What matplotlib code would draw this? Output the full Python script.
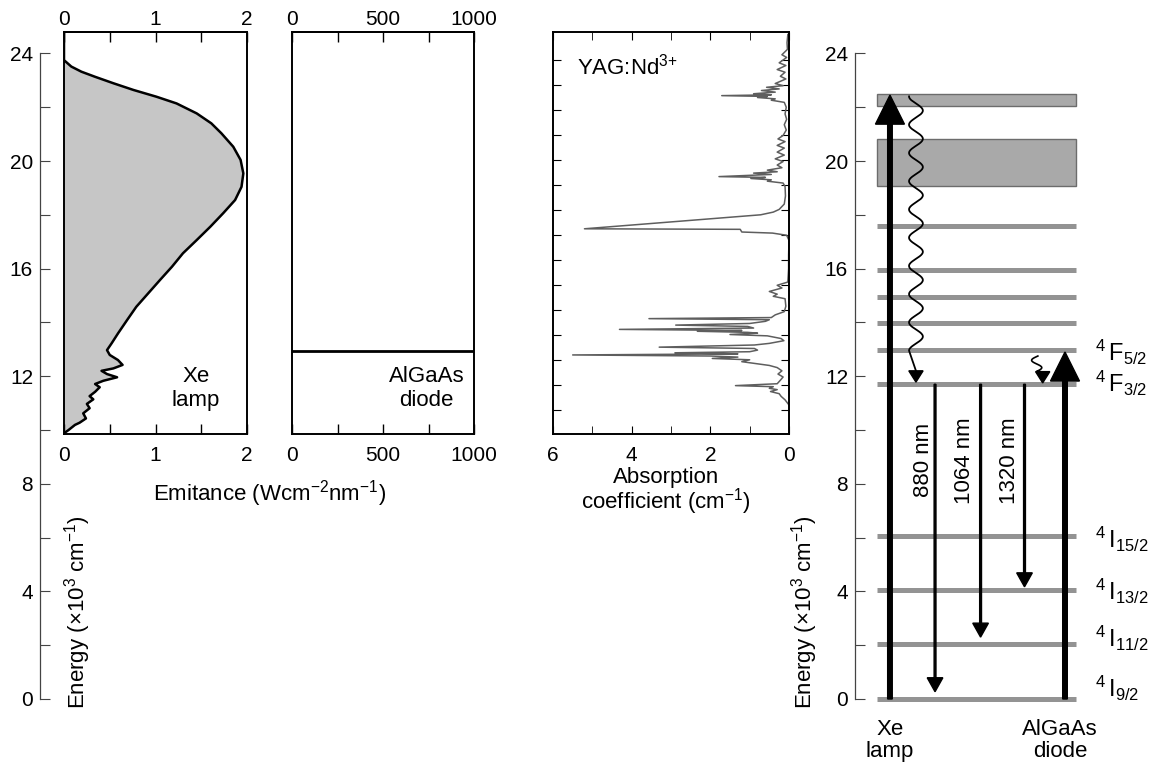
import matplotlib.pyplot as plt
import numpy as np
from matplotlib.ticker import MultipleLocator, FixedLocator

plt.rcParams['font.family'] = ['Liberation Sans', 'DejaVu Sans']
plt.rcParams['mathtext.fontset'] = 'custom'
plt.rcParams['mathtext.rm'] = 'Liberation Sans'
plt.rcParams['mathtext.it'] = 'Liberation Sans:italic'
plt.rcParams['mathtext.bf'] = 'Liberation Sans:bold'

# Xe lamp emission (energy in 10^3 cm^-1, emittance W cm^-2 nm^-1)
xe_energy = [9.88, 10.0, 10.19, 10.27, 10.43, 10.62, 10.81, 10.97, 11.14, 11.26,
             11.42, 11.59, 11.71, 11.83, 11.96, 12.08, 12.20, 12.29, 12.42, 12.60,
             12.79, 12.97, 13.22, 13.59, 14.09, 14.58, 15.08, 15.58, 16.07, 16.57,
             17.06, 17.56, 18.06, 18.55, 19.04, 19.54, 20.04, 20.53, 21.03, 21.40,
             21.77, 22.14, 22.39, 22.64, 22.89, 23.13, 23.32, 23.51, 23.75, 24.8]
xe_emittance = [0.0, 0.05, 0.12, 0.17, 0.24, 0.21, 0.28, 0.25, 0.32, 0.28,
                0.34, 0.39, 0.34, 0.43, 0.58, 0.47, 0.41, 0.54, 0.64, 0.59,
                0.50, 0.47, 0.52, 0.59, 0.69, 0.79, 0.92, 1.05, 1.18, 1.30,
                1.45, 1.60, 1.74, 1.87, 1.94, 1.96, 1.93, 1.85, 1.72, 1.61,
                1.45, 1.23, 1.01, 0.76, 0.54, 0.34, 0.19, 0.08, 0.0, 0.0]

# AlGaAs diode emission line
diode_energy = 12.95

# YAG:Nd3+ absorption spectrum
abs_energy = [24.70, 24.40, 24.15, 23.95, 23.85, 23.65, 23.55, 23.40, 23.30, 23.15,
              23.05, 22.88, 22.80, 22.74, 22.68, 22.62, 22.56, 22.50, 22.46, 22.43,
              22.40, 22.36, 22.31, 22.26, 22.18, 22.00, 21.75, 21.55, 21.35, 21.15,
              20.95, 20.82, 20.72, 20.58, 20.48, 20.33, 20.22, 20.08, 19.98, 19.85,
              19.75, 19.66, 19.60, 19.55, 19.50, 19.42, 19.39, 19.35, 19.30, 19.25,
              19.18, 19.05, 18.70, 18.40, 18.20, 18.10, 18.00, 17.48, 17.46, 17.36,
              17.32, 17.24, 17.05, 16.50, 16.00, 15.50, 15.38, 15.28, 15.15, 15.05,
              14.97, 14.88, 14.60, 14.40, 14.28, 14.18, 14.14, 14.10, 14.04, 13.96,
              13.90, 13.85, 13.79, 13.74, 13.70, 13.67, 13.63, 13.60, 13.55, 13.50,
              13.40, 13.32, 13.22, 13.16, 13.08, 13.03, 12.97, 12.91, 12.87, 12.83,
              12.79, 12.75, 12.71, 12.66, 12.61, 12.54, 12.48, 12.40, 12.32, 12.20,
              12.08, 11.97, 11.85, 11.72, 11.65, 11.61, 11.55, 11.50, 11.43, 11.35,
              11.25, 11.12, 10.93]
abs_coeff = [0.03, 0.05, 0.04, 0.18, 0.06, 0.25, 0.08, 0.30, 0.10, 0.22,
             0.08, 0.35, 0.15, 0.57, 0.25, 0.70, 0.35, 0.90, 0.45, 1.71,
             0.55, 0.80, 0.35, 0.45, 0.12, 0.07, 0.10, 0.06, 0.12, 0.07,
             0.15, 0.28, 0.10, 0.30, 0.12, 0.30, 0.12, 0.35, 0.15, 0.30,
             0.18, 0.55, 0.30, 0.90, 0.45, 1.78, 0.60, 0.97, 0.45, 0.55,
             0.15, 0.10, 0.09, 0.12, 0.25, 0.40, 0.72, 5.20, 1.24, 1.20,
             0.42, 0.06, 0.00, 0.01, 0.01, 0.03, 0.30, 0.18, 0.50, 0.30,
             0.40, 0.10, 0.08, 0.12, 0.35, 0.45, 3.56, 0.50, 0.60, 1.00,
             2.88, 1.05, 0.90, 4.31, 1.20, 2.33, 1.05, 0.80, 1.50, 0.55,
             0.20, 0.13, 0.50, 0.88, 3.30, 0.88, 0.80, 1.00, 2.90, 1.30,
             5.50, 2.00, 1.30, 1.95, 1.00, 1.20, 0.90, 0.50, 0.30, 0.18,
             0.28, 0.15, 0.22, 0.30, 1.36, 0.40, 0.50, 0.30, 0.47, 0.25,
             0.20, 0.10, 0.00]

# Nd3+ energy levels
level_energy = [0.0, 2.03, 4.05, 6.05, 11.7, 12.97, 13.96, 14.94, 15.93, 17.58]
band_low = [19.07, 22.04]
band_high = [20.83, 22.50]
level_names = [r'$^{4}\,\mathrm{F}_{5/2}$', r'$^{4}\,\mathrm{F}_{3/2}$',
               r'$^{4}\,\mathrm{I}_{15/2}$', r'$^{4}\,\mathrm{I}_{13/2}$',
               r'$^{4}\,\mathrm{I}_{11/2}$', r'$^{4}\,\mathrm{I}_{9/2}$']
level_label_E = [12.55, 11.4, 5.62, 3.68, 1.94, 0.07]

xe_pump_top = 22.45
diode_pump_top = 12.9
upper_laser = 11.7
emission_tips = [0.27, 2.3, 4.17]
emission_names = ['880 nm', '1064 nm', '1320 nm']

W, H = 1153, 767
fig = plt.figure(figsize=(W / 100, H / 100), dpi=100)

TICK_FS = 15
TEXT_FS = 16


def box(x0, y0, x1, y1):
    return [x0 / W, 1 - y1 / H, (x1 - x0) / W, (y1 - y0) / H]


def ey(E):
    # pixel row of an energy value, shared by all panels
    return 699 - E * 26.9


def energy_axis(ax):
    for s in ['top', 'right', 'bottom']:
        ax.spines[s].set_visible(False)
    ax.spines['left'].set_color('#444444')
    ax.spines['left'].set_linewidth(0.9)
    ax.set_ylim(0, 24)
    ax.set_xticks([])
    ax.yaxis.set_major_locator(MultipleLocator(4))
    ax.yaxis.set_minor_locator(MultipleLocator(2))
    ax.tick_params(axis='y', which='both', direction='in', length=7, width=0.8,
                   color='#444444', labelsize=TICK_FS, pad=5)
    ax.patch.set_alpha(0)


def top_bottom_ticks(ax, major, minor):
    ax.xaxis.set_major_locator(FixedLocator(major))
    ax.xaxis.set_minor_locator(FixedLocator(minor))
    ax.tick_params(axis='x', which='both', direction='in', length=7, width=1.0,
                   labelsize=TICK_FS, pad=8.5)
    sec = ax.secondary_xaxis('top')
    sec.xaxis.set_major_locator(FixedLocator(major))
    sec.xaxis.set_minor_locator(FixedLocator(minor))
    sec.tick_params(axis='x', which='both', direction='in', length=7, width=1.0,
                    labelsize=TICK_FS, pad=2)
    sec.spines['top'].set_linewidth(1.4)
    return sec


ylo, yhi = 9.85, 24.8

# left energy axis
ax0 = fig.add_axes(box(40, ey(24), 41, ey(0)))
energy_axis(ax0)
fig.text(78 / W, 1 - 612 / H, r'Energy ($\times$10$^{3}$ cm$^{-1}$)', rotation=90,
         ha='center', va='center', fontsize=TEXT_FS)

# Xe lamp panel
ax1 = fig.add_axes(box(64, ey(yhi), 247, ey(ylo)))
ax1.fill_betweenx(xe_energy, 0, xe_emittance, color='#c6c6c6', lw=0)
ax1.plot(xe_emittance, xe_energy, color='black', lw=1.8, solid_joinstyle='round')
ax1.set_xlim(0, 2.0)
ax1.set_ylim(ylo, yhi)
ax1.set_yticks([])
top_bottom_ticks(ax1, [0, 1, 2], [0.5, 1.5])
ax1.text(0.72, 0.114, 'Xe\nlamp', transform=ax1.transAxes, ha='center', va='center',
         fontsize=TEXT_FS, linespacing=1.2)

# AlGaAs diode panel
ax2 = fig.add_axes(box(292, ey(yhi), 474, ey(ylo)))
ax2.axhline(diode_energy, color='black', lw=2)
ax2.set_xlim(0, 1000)
ax2.set_ylim(ylo, yhi)
ax2.set_yticks([])
top_bottom_ticks(ax2, [0, 500, 1000], [250, 750])
ax2.text(0.74, 0.114, 'AlGaAs\ndiode', transform=ax2.transAxes, ha='center', va='center',
         fontsize=TEXT_FS, linespacing=1.2)

for ax in (ax1, ax2):
    for s in ax.spines.values():
        s.set_linewidth(1.4)

fig.text(270 / W, 1 - 494 / H, r'Emitance (Wcm$^{-2}$nm$^{-1}$)', ha='center',
         va='center', fontsize=TEXT_FS)

# absorption panel
ax3 = fig.add_axes(box(553, ey(yhi), 789, ey(ylo)))
ax3.plot(abs_coeff, abs_energy, color='#5e5e5e', lw=1.1)
ax3.set_xlim(6, 0)
ax3.set_ylim(ylo, yhi)
ax3.xaxis.set_major_locator(FixedLocator([6, 4, 2, 0]))
ax3.xaxis.set_minor_locator(FixedLocator([5, 3, 1]))
ax3.yaxis.set_major_locator(FixedLocator(list(np.arange(23.75, 10.5, -0.929))))
ax3.set_yticklabels([])
for s in ax3.spines.values():
    s.set_linewidth(1.4)
ax3.tick_params(axis='x', which='both', direction='in', top=True, length=6,
                labelsize=TICK_FS, pad=8.5)
ax3.tick_params(axis='y', which='both', direction='in', right=True, length=6)
ax3.text(0.1, 0.915, r'YAG:Nd$^{3{+}}$', transform=ax3.transAxes, ha='left', va='center',
         fontsize=TEXT_FS)
fig.text(666 / W, 1 - 492 / H, 'Absorption\ncoefficient (cm$^{-1}$)', ha='center',
         va='center', fontsize=TEXT_FS, linespacing=0.95)

# energy level diagram
ax4 = fig.add_axes(box(855, ey(24), 1085, ey(0)))
energy_axis(ax4)
ax4.set_xlim(0, 1)
lx0, lx1 = 0.096, 0.961
for lo, hi in zip(band_low, band_high):
    ax4.axhspan(lo, hi, xmin=lx0, xmax=lx1, facecolor='#a9a9a9', edgecolor='#6c6c6c',
                lw=1.0, zorder=1)
ax4.hlines(level_energy, lx0, lx1, colors='#939393', lw=3.6, zorder=1, clip_on=False)

for name, e in zip(level_names, level_label_E):
    ax4.text(1.043, e, name, ha='left', va='baseline', fontsize=17, clip_on=False)

# pump arrows
ax4.arrow(0.152, 0, 0, xe_pump_top, width=0.02, head_width=0.126, head_length=1.08,
          length_includes_head=True, color='black', zorder=4, clip_on=False)
ax4.arrow(0.913, 0, 0, diode_pump_top, width=0.02, head_width=0.126, head_length=1.08,
          length_includes_head=True, color='black', zorder=4, clip_on=False)

# non-radiative relaxation (wavy arrows)
wave_E = np.linspace(12.95, band_high[1] - 0.1, 400)
wave_x = 0.265 - 0.03 * np.cos(2 * np.pi * (wave_E[-1] - wave_E) / 1.05)
ax4.plot(np.r_[0.265, wave_x], np.r_[12.2, wave_E], color='black', lw=1.3, zorder=3)
ax4.arrow(0.265, 12.2, 0, -0.42, width=0, head_width=0.062, head_length=0.42,
          length_includes_head=True, color='black', zorder=4)
small_E = np.linspace(12.18, diode_energy - 0.2, 60)
small_x = 0.79 + 0.022 * np.sin(2 * np.pi * (small_E - 12.18) / 0.55)
ax4.plot(np.r_[0.816, small_x], np.r_[12.16, small_E], color='black', lw=1.2, zorder=3)
ax4.arrow(0.816, 12.17, 0, -0.42, width=0, head_width=0.062, head_length=0.42,
          length_includes_head=True, color='black', zorder=4)

# laser emission arrows
for xpos, tip, name, lab_x in zip([0.348, 0.546, 0.737], emission_tips, emission_names,
                                  [0.297, 0.478, 0.67]):
    ax4.arrow(xpos, upper_laser, 0, tip - upper_laser, width=0.008, head_width=0.068,
              head_length=0.52, length_includes_head=True, color='black', zorder=4)
    ax4.text(lab_x, 8.87, name, rotation=90, ha='center', va='center', fontsize=TEXT_FS)

ax4.text(0.152, -1.55, 'Xe\nlamp', ha='center', va='center', fontsize=TEXT_FS,
         linespacing=1.1, clip_on=False)
ax4.text(0.891, -1.55, 'AlGaAs\ndiode', ha='center', va='center', fontsize=TEXT_FS,
         linespacing=1.1, clip_on=False)
fig.text(805 / W, 1 - 612 / H, r'Energy ($\times$10$^{3}$ cm$^{-1}$)', rotation=90,
         ha='center', va='center', fontsize=TEXT_FS)

plt.savefig('out.png', dpi=100)
